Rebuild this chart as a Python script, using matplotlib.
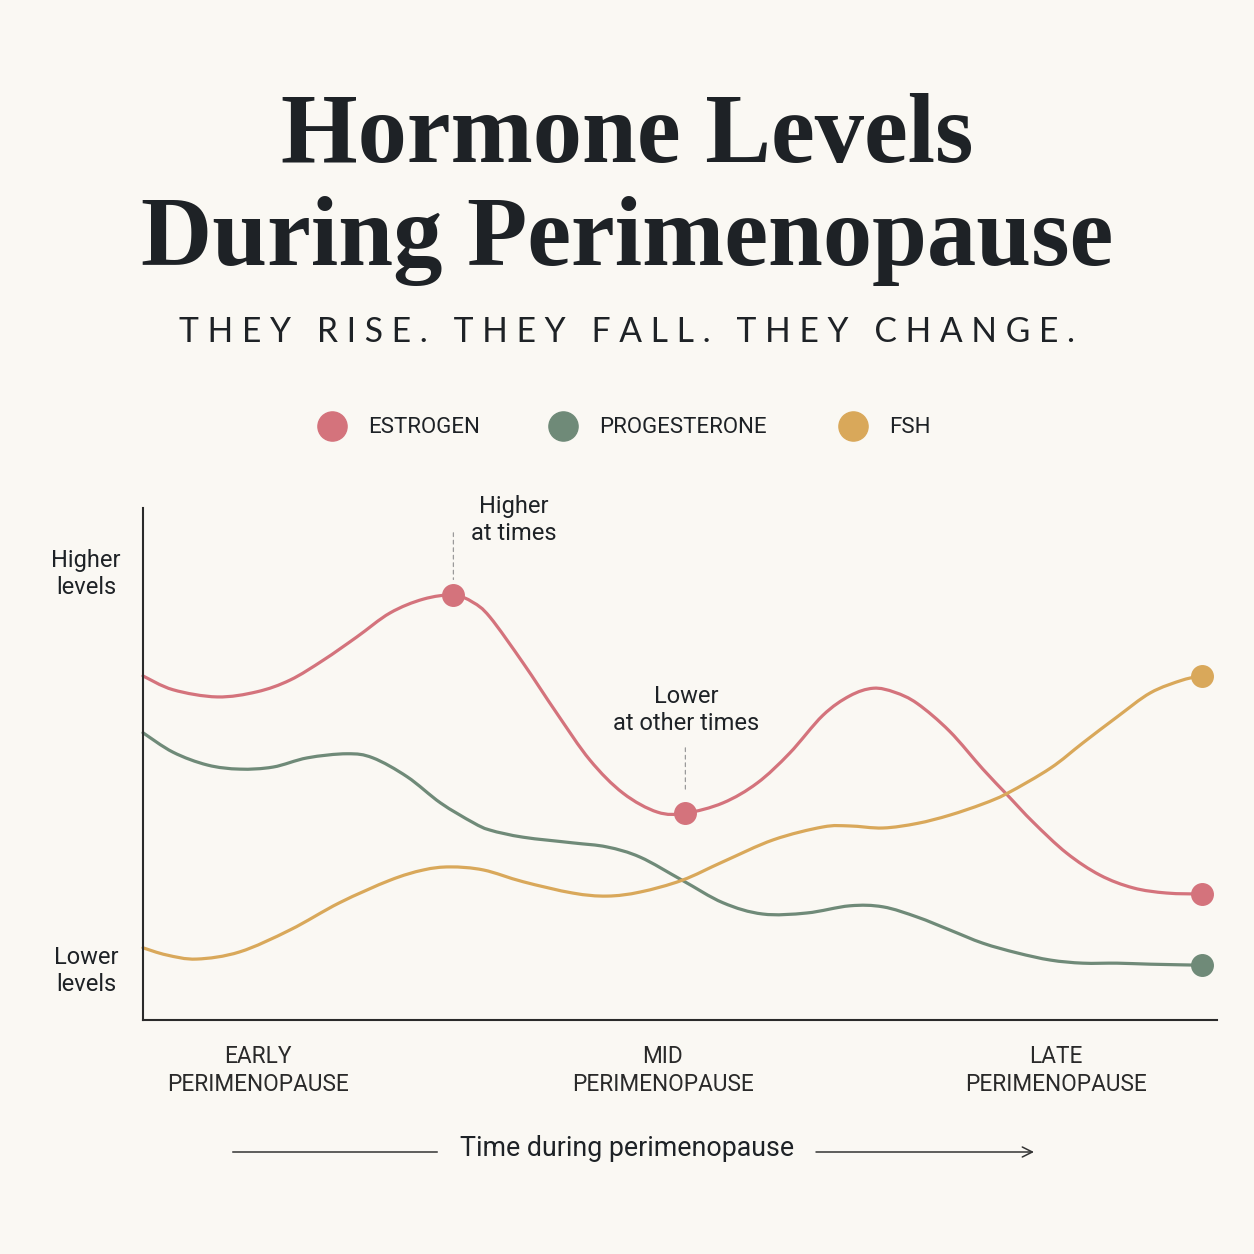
import matplotlib.pyplot as plt
from matplotlib.lines import Line2D
from matplotlib.patches import PathPatch
from matplotlib.path import Path

# canvas
SIZE_PX = 1254
DPI = 100

BG = "#FAF8F3"
INK = "#1E2226"
SANS = ["Roboto", "DejaVu Sans"]
SERIF = ["Liberation Serif", "DejaVu Serif"]

# series (time 0-100 across the axis, relative level 0-100)
estrogen_t = [0, 2.8, 6.9, 10.6, 13.7, 16.8, 19.9, 23.0, 26.1, 28.9, 30.7, 32.3,
              35.4, 38.5, 41.6, 44.7, 47.9, 50.5, 54.0, 57.2, 60.2, 63.3, 65.8,
              68.0, 70.0, 72.1, 75.1, 78.2, 80.5, 82.9, 86.0, 89.1, 92.2, 95.3, 98.6]
estrogen_v = [67.2, 64.5, 63.1, 64.1, 66.4, 70.3, 74.8, 79.5, 82.2, 83.0, 81.6, 78.7,
              69.7, 60.0, 50.8, 44.3, 40.6, 40.4, 42.4, 46.3, 52.1, 59.5, 63.3,
              64.8, 64.0, 61.8, 56.4, 49.0, 43.9, 38.6, 32.6, 28.3, 25.8, 24.8, 24.6]

progesterone_t = [0, 2.8, 6.0, 9.0, 12.1, 15.3, 19.0, 21.4, 24.6, 27.7, 30.7, 32.3,
                  35.4, 40.0, 43.2, 46.3, 50.2, 54.0, 57.7, 61.8, 65.8, 68.9, 72.1,
                  75.1, 78.2, 81.4, 84.5, 87.5, 90.7, 93.8, 98.6]
progesterone_v = [56.1, 52.3, 49.8, 49.0, 49.4, 51.2, 52.0, 51.2, 47.5, 42.4, 38.6, 37.1,
                  35.7, 34.6, 33.8, 31.8, 27.3, 22.9, 20.7, 20.9, 22.3, 22.1, 20.1,
                  17.6, 15.0, 13.1, 11.7, 11.1, 11.1, 10.9, 10.7]

fsh_t = [0, 2.2, 5.0, 9.0, 13.7, 18.3, 23.0, 26.1, 28.6, 31.7, 35.4, 40.0, 43.2,
         46.3, 50.2, 54.0, 58.7, 63.3, 65.8, 68.9, 72.1, 75.1, 78.2, 80.5, 84.5,
         87.5, 90.7, 93.8, 96.8, 98.6]
fsh_v = [14.1, 12.7, 11.9, 13.3, 17.6, 22.9, 27.3, 29.3, 29.9, 29.3, 27.0, 24.8, 24.2,
         25.0, 27.3, 30.9, 35.2, 37.7, 37.9, 37.5, 38.4, 40.0, 42.2, 44.3, 49.2,
         54.1, 59.2, 63.9, 66.4, 67.2]

series_names = ["ESTROGEN", "PROGESTERONE", "FSH"]
series_colors = ["#D4737C", "#6F8A78", "#D9A85A"]

phase_labels = ["EARLY\nPERIMENOPAUSE", "MID\nPERIMENOPAUSE", "LATE\nPERIMENOPAUSE"]
phase_t = [10.7, 48.4, 85.0]

# highlighted points: (time, level, label)
callouts = [(28.9, 83.0, "Higher\nat times"), (50.5, 40.4, "Lower\nat other times")]


def fx(px):
    return px / SIZE_PX


def fy(py):
    return 1 - py / SIZE_PX


def smooth_path(t, v):
    # catmull-rom style bezier through the read points
    verts = [(t[0], v[0])]
    codes = [Path.MOVETO]
    n = len(t)
    for i in range(n - 1):
        a = max(i - 1, 0)
        b = min(i + 2, n - 1)
        c1 = (t[i] + (t[i + 1] - t[a]) / 6, v[i] + (v[i + 1] - v[a]) / 6)
        c2 = (t[i + 1] - (t[b] - t[i]) / 6, v[i + 1] - (v[b] - v[i]) / 6)
        verts += [c1, c2, (t[i + 1], v[i + 1])]
        codes += [Path.CURVE4] * 3
    return Path(verts, codes)


fig = plt.figure(figsize=(SIZE_PX / DPI, SIZE_PX / DPI), dpi=DPI, facecolor=BG)

# title block
fig.text(0.5, fy(162), "Hormone Levels", ha="center", va="baseline",
         family=SERIF, weight="bold", size=71, color=INK)
fig.text(0.5, fy(265), "During Perimenopause", ha="center", va="baseline",
         family=SERIF, weight="bold", size=71, color=INK)
subtitle = "THEY RISE. THEY FALL. THEY CHANGE."
fig.text(0.5, fy(342), " ".join(subtitle), ha="center", va="baseline",
         family=["Lato", "DejaVu Sans"], weight="normal", size=24.2, color=INK)

# legend
legend_x = [332, 563, 853]
for x, name, col in zip(legend_x, series_names, series_colors):
    fig.add_artist(Line2D([fx(x)], [fy(426)], marker="o", ms=21, color=col,
                          transform=fig.transFigure))
    fig.text(fx(x + 36), fy(428), name, ha="left", va="center",
             family=SANS, size=16, color=INK)

# chart
ax = fig.add_axes([fx(143), fy(1020), fx(1074), fx(512)])
ax.set_facecolor(BG)
ax.set_xlim(0, 100)
ax.set_ylim(0, 100)
for side in ["top", "right"]:
    ax.spines[side].set_visible(False)
for side in ["left", "bottom"]:
    ax.spines[side].set_color("#2A2A2A")
    ax.spines[side].set_linewidth(1.5)
ax.set_xticks([])
ax.set_yticks([])

all_t = [estrogen_t, progesterone_t, fsh_t]
all_v = [estrogen_v, progesterone_v, fsh_v]
for t, v, col in zip(all_t, all_v, series_colors):
    ax.add_patch(PathPatch(smooth_path(t, v), fill=False, edgecolor=col, lw=2.3,
                           capstyle="round", joinstyle="round", clip_on=False))
    ax.plot(t[-1], v[-1], "o", ms=15.5, color=col, clip_on=False, zorder=5)

for t, v, text in callouts:
    ax.plot(t, v, "o", ms=15.5, color=series_colors[0], zorder=5)

ax.annotate("", xy=(28.9, 85.5), xytext=(28.9, 95.7),
            arrowprops=dict(arrowstyle="-", ls=(0, (3, 3)), color="#9A9A9A", lw=0.9))
ax.text(34.5, 97.7, callouts[0][2], ha="center", va="center", family=SANS,
        size=17, color=INK, clip_on=False)
ax.annotate("", xy=(50.5, 43.9), xytext=(50.5, 53.7),
            arrowprops=dict(arrowstyle="-", ls=(0, (3, 3)), color="#9A9A9A", lw=0.9))
ax.text(50.6, 60.6, callouts[1][2], ha="center", va="center", family=SANS,
        size=17, color=INK)

# axis annotations
fig.text(fx(86), fy(574), "Higher\nlevels", ha="center", va="center",
         family=SANS, size=17, color=INK)
fig.text(fx(86), fy(971), "Lower\nlevels", ha="center", va="center",
         family=SANS, size=17, color=INK)

for t, lab in zip(phase_t, phase_labels):
    ax.text(t, -9.9, lab, ha="center", va="center", family=SANS,
            size=16.3, color="#2A2A2A", linespacing=1.3, clip_on=False)

fig.text(0.5, fy(1148), "Time during perimenopause", ha="center", va="center",
         family=SANS, size=19.3, color=INK)
fig.add_artist(Line2D([fx(233), fx(437)], [fy(1152), fy(1152)], lw=1.1,
                      color="#333333", transform=fig.transFigure))
ax.annotate("", xy=(fx(1034), fy(1152)), xytext=(fx(816), fy(1152)),
            xycoords="figure fraction", textcoords="figure fraction",
            arrowprops=dict(arrowstyle="->", color="#333333", lw=1.1,
                            mutation_scale=18, shrinkA=0, shrinkB=0))

fig.savefig("out.png", dpi=DPI, facecolor=BG)
